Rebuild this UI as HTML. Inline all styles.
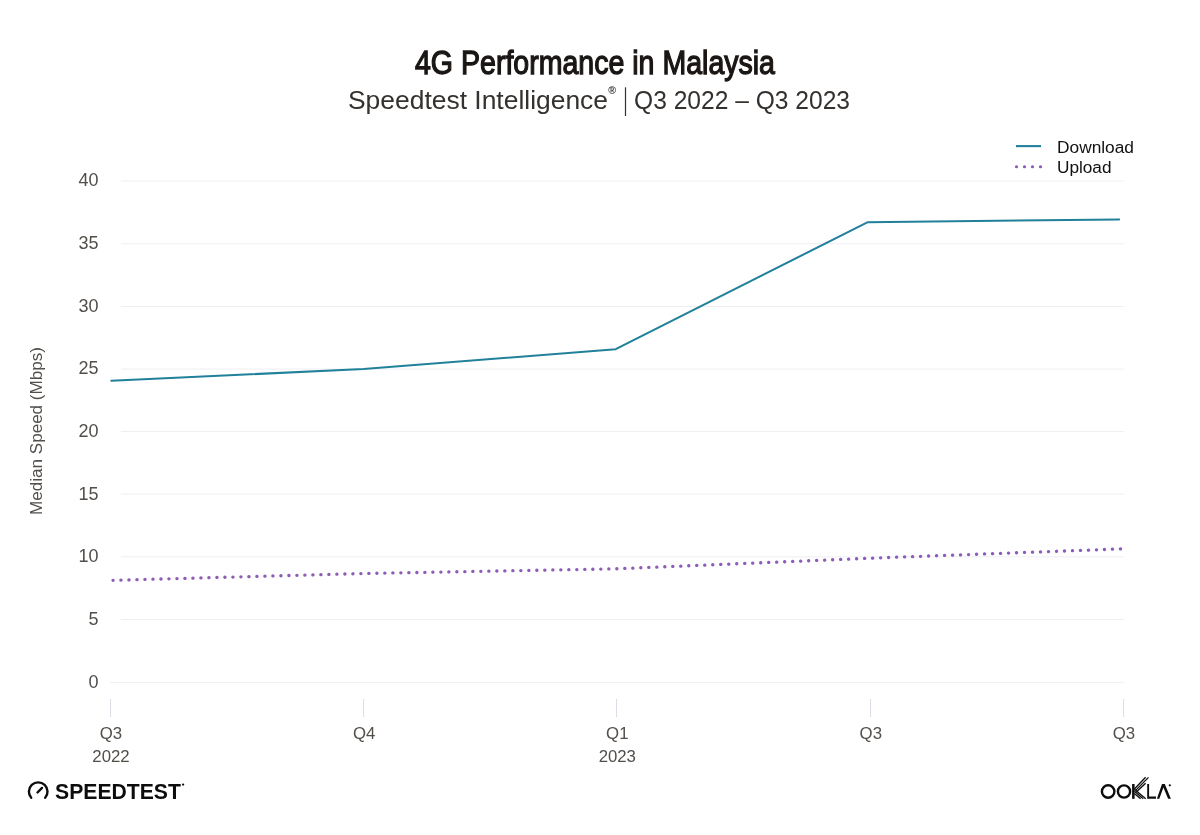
<!DOCTYPE html>
<html>
<head>
<meta charset="utf-8">
<style>
html,body{margin:0;padding:0;background:#fff;}
body{width:1200px;height:835px;overflow:hidden;}
svg{display:block;will-change:transform;}
text{font-family:"Liberation Sans", sans-serif;}
</style>
</head>
<body>
<svg width="1200" height="835" viewBox="0 0 1200 835">
<rect width="1200" height="835" fill="#fff"/>
<!-- title -->
<text x="415" y="74" font-size="33.5" fill="#1a1614" stroke="#1a1614" stroke-width="1.3" textLength="360" lengthAdjust="spacingAndGlyphs">4G Performance in Malaysia</text>
<g font-size="26.5" fill="#35312e">
<text x="348" y="108.5" textLength="260" lengthAdjust="spacingAndGlyphs">Speedtest Intelligence</text>
<text x="608.2" y="94.4" font-size="10.5" font-weight="bold">®</text>
<line x1="625.5" y1="87.3" x2="625.5" y2="116" stroke="#35312e" stroke-width="1.2"/>
<text x="634" y="108.5" textLength="216" lengthAdjust="spacingAndGlyphs">Q3 2022 – Q3 2023</text>
</g>

<!-- legend -->
<line x1="1016" y1="146.1" x2="1041" y2="146.1" stroke="#21819a" stroke-width="2.1"/>
<line x1="1016.4" y1="166.8" x2="1042" y2="166.8" stroke="#8d5cb8" stroke-width="3" stroke-linecap="round" stroke-dasharray="0.2 7.8"/>
<text x="1057" y="153" font-size="16" fill="#111" textLength="77" lengthAdjust="spacingAndGlyphs">Download</text>
<text x="1057" y="173" font-size="16" fill="#111" textLength="54.5" lengthAdjust="spacingAndGlyphs">Upload</text>

<!-- gridlines -->
<g stroke="#efeff3" stroke-width="1">
<line x1="121" y1="181.0" x2="1124" y2="181.0"/>
<line x1="121" y1="243.75" x2="1124" y2="243.75"/>
<line x1="121" y1="306.5" x2="1124" y2="306.5"/>
<line x1="121" y1="369.05" x2="1124" y2="369.05"/>
<line x1="121" y1="431.6" x2="1124" y2="431.6"/>
<line x1="121" y1="494.15" x2="1124" y2="494.15"/>
<line x1="121" y1="556.8" x2="1124" y2="556.8"/>
<line x1="121" y1="619.4" x2="1124" y2="619.4"/>
</g>
<line x1="110" y1="682.5" x2="1124" y2="682.5" stroke="#eff0f3" stroke-width="1"/>

<!-- ticks -->
<g stroke="#dcdde7" stroke-width="1">
<line x1="110.5" y1="699" x2="110.5" y2="717"/>
<line x1="363.5" y1="699" x2="363.5" y2="717"/>
<line x1="616.5" y1="699" x2="616.5" y2="717"/>
<line x1="870.5" y1="699" x2="870.5" y2="717"/>
<line x1="1123.5" y1="699" x2="1123.5" y2="717"/>
</g>

<!-- y labels -->
<g font-size="18" fill="#524e4a" text-anchor="end">
<text x="98.5" y="186">40</text>
<text x="98.5" y="249">35</text>
<text x="98.5" y="311.5">30</text>
<text x="98.5" y="374">25</text>
<text x="98.5" y="436.8">20</text>
<text x="98.5" y="499.5">15</text>
<text x="98.5" y="562">10</text>
<text x="98.5" y="624.5">5</text>
<text x="98.5" y="688">0</text>
</g>
<text transform="translate(41.5,431) rotate(-90)" font-size="17" fill="#524e4a" text-anchor="middle" textLength="168" lengthAdjust="spacingAndGlyphs">Median Speed (Mbps)</text>

<!-- x labels -->
<g font-size="16.8" fill="#524e4a" text-anchor="middle">
<text x="111" y="739.3">Q3</text>
<text x="111" y="761.9">2022</text>
<text x="364.2" y="739.3">Q4</text>
<text x="617.3" y="739.3">Q1</text>
<text x="617.3" y="761.9">2023</text>
<text x="870.8" y="739.3">Q3</text>
<text x="1124" y="739.3">Q3</text>
</g>

<!-- data lines -->
<polyline fill="none" stroke="#21819a" stroke-width="2.05" stroke-linejoin="round" stroke-linecap="round"
 points="111.3,380.8 363.5,369 615.7,349.2 867.3,222.3 1119,219.4"/>
<polyline fill="none" stroke="#8d5cb8" stroke-width="3.3" stroke-linecap="round" stroke-dasharray="0.15 7.85" stroke-dashoffset="0.1"
 points="113,580.3 363,573.5 616,568.8 867,558.3 1120.6,548.9"/>

<!-- speedtest logo -->
<g fill="none" stroke="#0d0d0d" stroke-width="2.4" stroke-linecap="round">
<path d="M31.2,797.8 A9.3,9.3 0 1 1 45.2,797.8"/>
<line x1="37.5" y1="792.5" x2="42" y2="787.9"/>
</g>
<text x="55.1" y="798.9" font-size="21.8" font-weight="bold" fill="#0d0d0d" textLength="125.8" lengthAdjust="spacingAndGlyphs">SPEEDTEST</text>
<circle cx="183.1" cy="784.6" r="1.15" fill="#0d0d0d"/>

<!-- ookla logo -->
<g fill="none" stroke="#0d0d0d" stroke-width="2.4">
<circle cx="1108.15" cy="791.5" r="6.25"/>
<circle cx="1124" cy="791.5" r="6.1"/>
</g>
<g fill="#0d0d0d">
<rect x="1132.1" y="784" width="2.5" height="14.8"/>
<path d="M1147.2,784 H1149.1 V796.6 H1156 V798.8 H1147.2 Z"/>
<path d="M1156.9,798.8 L1162,784 H1164.8 L1170.9,798.8 H1168.1 L1163.4,787.6 L1159.3,798.8 Z"/>
<circle cx="1169.8" cy="785.3" r="1.1"/>
</g>
<g fill="none" stroke="#0d0d0d" stroke-width="1.3">
<line x1="1134.4" y1="789" x2="1145.6" y2="777.2"/>
<line x1="1135.4" y1="790.6" x2="1148.5" y2="777.4"/>
<line x1="1136.6" y1="791.8" x2="1145.6" y2="783.2"/>
<line x1="1134.4" y1="789.2" x2="1145.7" y2="798.8"/>
<line x1="1134.4" y1="791.3" x2="1143.2" y2="798.8"/>
<line x1="1134.4" y1="793.4" x2="1140.6" y2="798.8"/>
</g>
</svg>
</body>
</html>
